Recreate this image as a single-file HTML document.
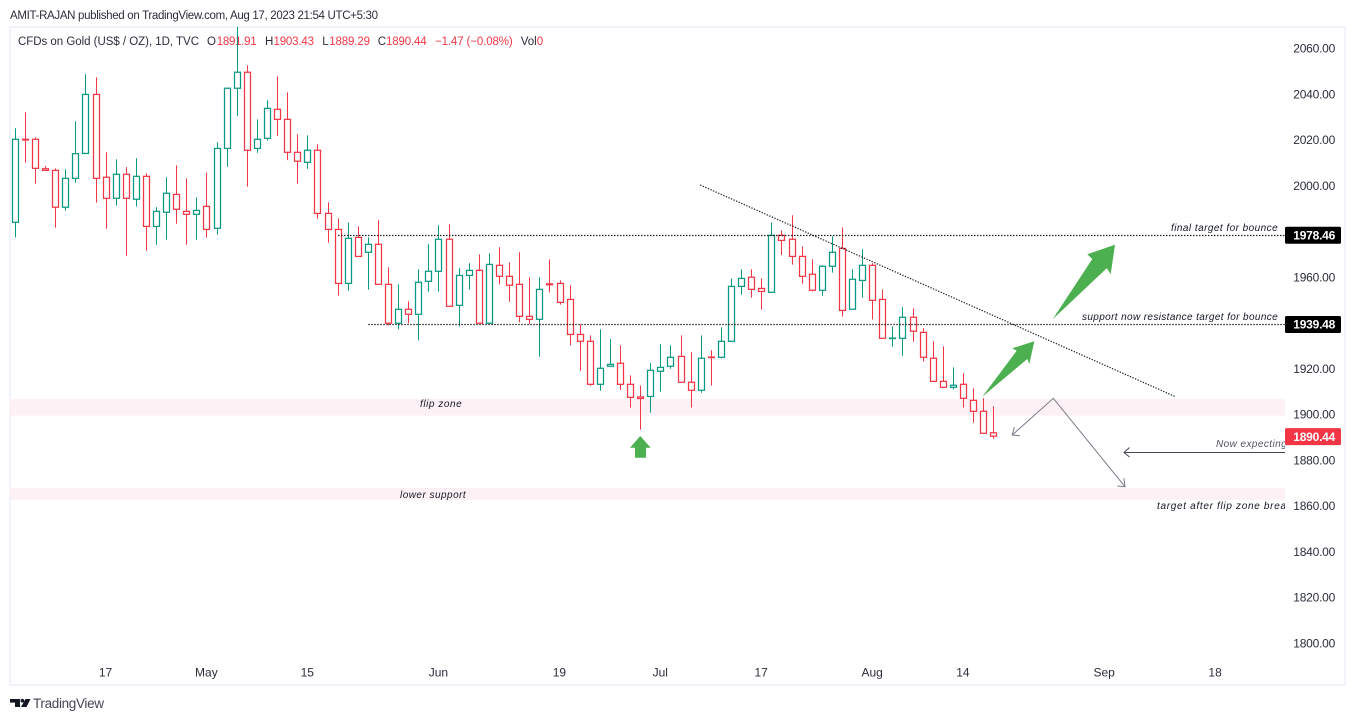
<!DOCTYPE html>
<html lang="en">
<head>
<meta charset="utf-8">
<title>CFDs on Gold chart</title>
<style>
html,body{margin:0;padding:0;background:#fff;width:1355px;height:721px;overflow:hidden}
svg{display:block;font-family:"Liberation Sans",sans-serif}
.ax{font-size:12px;fill:#2a2e39}
.note{font-size:10px;font-style:italic;fill:#131722;letter-spacing:.3px}
.leg{font-size:11.5px;fill:#2a2e39}
.red{fill:#f23645}
</style>
</head>
<body>
<svg id="chart" xmlns="http://www.w3.org/2000/svg" width="1355" height="721" viewBox="0 0 1355 721">
  <defs><clipPath id="plot-clip"><rect x="10" y="27" width="1275" height="657"/></clipPath></defs>
  <text x="10" y="19" textLength="368" lengthAdjust="spacing" style="font-size:11.5px;fill:#2a2e39">AMIT-RAJAN published on TradingView.com, Aug 17, 2023 21:54 UTC+5:30</text>
  <rect x="10" y="27" width="1335" height="658" fill="#fff" stroke="#f0f3fa" stroke-width="2"/>

  <g id="zones"></g>

  <g>
    <text class="leg" x="18" y="45" textLength="181" lengthAdjust="spacing">CFDs on Gold (US$ / OZ), 1D, TVC</text>
    <text class="leg" x="207" y="45">O</text>
    <text class="leg red" x="216.7" y="45" textLength="40" lengthAdjust="spacing">1891.91</text>
    <text class="leg" x="265" y="45">H</text>
    <text class="leg red" x="273.5" y="45" textLength="40.5" lengthAdjust="spacing">1903.43</text>
    <text class="leg" x="322.3" y="45">L</text>
    <text class="leg red" x="329.2" y="45" textLength="40.8" lengthAdjust="spacing">1889.29</text>
    <text class="leg" x="377.7" y="45">C</text>
    <text class="leg red" x="386" y="45" textLength="40.7" lengthAdjust="spacing">1890.44</text>
    <text class="leg red" x="435" y="45" textLength="77.7" lengthAdjust="spacing">−1.47 (−0.08%)</text>
    <text class="leg" x="520.7" y="45" textLength="16" lengthAdjust="spacing">Vol</text>
    <text class="leg red" x="536.8" y="45">0</text>
  </g>

  <g id="candles"></g>
  <g id="lines"></g>

  <g clip-path="url(#plot-clip)">
    <text class="note" x="420" y="407" textLength="42" lengthAdjust="spacing">flip zone</text>
    <text class="note" x="400" y="498" textLength="66" lengthAdjust="spacing">lower support</text>
    <text class="note" x="1171" y="231" textLength="107" lengthAdjust="spacing">final target for bounce</text>
    <text class="note" x="1082" y="320" textLength="196" lengthAdjust="spacing">support now resistance target for bounce</text>
    <text class="note" x="1216" y="447" textLength="71" lengthAdjust="spacing" style="fill:#50535e">Now expecting</text>
    <text class="note" x="1157" y="509" textLength="135" lengthAdjust="spacing">target after flip zone break</text>
  </g>

  <g fill="none" stroke="#787b86" stroke-width="1">
    <path d="M1012.3 435 L1053.3 398.3 L1125 486.7"/>
    <path d="M1020 435.7 L1012.3 435 L1014.3 427.3"/>
    <path d="M1117.3 486 L1125 486.7 L1124 478.3"/>
  </g>
  <g fill="none" stroke="#434651" stroke-width="1">
    <path d="M1285 452.5 L1124 452.5"/>
    <path d="M1129.5 447.5 L1124 452.5 L1129.5 457"/>
  </g>

  <polygon fill="#4caf50" points="1052.7,319.3 1092.3,259 1087.3,254.3 1115,244.7 1110.7,274 1106.7,268.3"/>
  <polygon fill="#4caf50" points="982.3,396.7 1016.7,350.7 1012.3,348.3 1034.3,341.3 1029.3,364 1027.3,359"/>
  <polygon fill="#4caf50" points="640.3,436 650.7,447.7 646,447.7 646,457.7 635,457.7 635,447.7 630,447.7"/>

  <g id="yaxis"></g>
  <g id="xaxis"></g>
  <g id="tags"></g>

  <g>
    <path fill="#131722" d="M10 699h10v8h-5v-4.4h-5z"/>
    <circle cx="22.4" cy="700.7" r="1.8" fill="#131722"/>
    <polygon fill="#131722" points="25.5,699 30.5,699 26.5,707 21,707"/>
    <text x="33" y="708" textLength="71" lengthAdjust="spacing" style="font-size:13.5px;fill:#434651">TradingView</text>
  </g>
</svg>
<script>
const opens=[1983.9,2020.2,2020.2,2007.3,2006.6,1990.5,2003.1,2014.0,2039.8,2003.6,1994.4,2004.9,1994.0,2004.0,1982.1,1988.3,1996.1,1988.7,1987.4,1990.9,1981.3,2016.2,2042.5,2049.5,2016.2,2020.6,2033.3,2028.9,2014.5,2010.1,2015.4,1987.8,1980.8,1957.2,1977.3,1970.8,1974.3,1956.8,1939.8,1945.9,1943.7,1958.1,1962.5,1976.5,1947.6,1960.7,1962.9,1939.8,1965.1,1960.3,1956.8,1942.8,1941.5,1957.0,1957.2,1950.2,1934.9,1931.9,1913.1,1921.0,1922.3,1913.1,1907.6,1907.8,1918.8,1921.0,1925.3,1914.0,1910.5,1925.0,1924.9,1931.9,1955.9,1959.9,1955.0,1953.3,1978.2,1976.5,1969.0,1961.2,1954.2,1964.7,1972.5,1945.9,1958.5,1965.1,1950.2,1933.1,1933.2,1942.4,1935.8,1924.5,1914.4,1911.8,1913.1,1906.1,1901.3,1891.91];
const highs=[2025.0,2032.0,2021.1,2008.5,2007.5,2007.1,2028.0,2048.6,2047.3,2014.5,2011.4,2008.0,2011.9,2005.3,1990.5,2003.6,2008.8,2003.1,1994.8,2005.7,2018.9,2042.5,2069.3,2052.5,2028.9,2037.2,2047.7,2040.7,2022.4,2021.9,2018.0,1992.6,1985.6,1983.9,1982.2,1977.3,1984.8,1964.2,1956.8,1949.4,1963.4,1974.3,1982.6,1983.0,1963.8,1966.0,1969.9,1970.4,1973.0,1966.4,1970.8,1959.9,1959.9,1967.7,1958.5,1956.4,1939.3,1934.5,1937.1,1932.8,1930.1,1917.0,1912.6,1922.3,1930.6,1930.1,1934.5,1927.1,1934.5,1928.0,1938.0,1959.4,1963.4,1963.4,1959.4,1983.9,1980.4,1987.0,1973.4,1967.7,1965.1,1977.8,1981.7,1963.4,1972.1,1966.0,1954.6,1938.4,1946.8,1946.3,1937.6,1931.9,1929.7,1920.5,1917.9,1911.3,1907.0,1903.43];
const lows=[1977.3,2010.0,2000.8,2006.4,1981.6,1989.0,2001.2,2013.9,1992.5,1981.1,1991.2,1969.3,1990.8,1971.5,1974.1,1976.3,1983.3,1974.1,1976.3,1977.2,1978.5,2008.2,2030.4,1999.5,2014.3,2019.6,2021.6,2011.1,2000.8,2007.3,1985.5,1975.0,1951.9,1954.0,1969.0,1954.5,1956.8,1938.9,1937.1,1939.8,1932.3,1953.6,1953.6,1947.2,1938.5,1954.5,1939.8,1939.8,1956.7,1949.2,1940.2,1939.5,1925.2,1953.2,1947.9,1930.1,1919.1,1912.5,1910.3,1920.8,1910.6,1902.9,1893.3,1900.7,1909.9,1919.9,1914.0,1902.9,1909.4,1912.5,1924.4,1931.9,1952.3,1951.0,1945.7,1953.3,1969.6,1965.4,1957.1,1953.7,1951.8,1961.9,1942.7,1945.9,1951.0,1941.4,1933.2,1929.5,1925.6,1931.7,1923.0,1914.3,1911.8,1910.9,1902.9,1896.3,1891.7,1889.29];
const closes=[2020.2,2019.9,2007.5,2006.6,1990.5,2003.1,2013.9,2039.8,2003.1,1994.4,2004.9,1994.4,2004.0,1982.1,1988.7,1996.6,1989.6,1987.4,1989.1,1980.8,2016.2,2042.5,2049.5,2015.4,2020.2,2033.7,2028.9,2014.5,2010.6,2015.4,1987.8,1980.8,1957.2,1976.9,1969.0,1974.3,1956.8,1939.8,1945.9,1943.7,1957.7,1962.5,1976.5,1947.2,1960.7,1962.9,1939.8,1965.5,1960.3,1956.4,1942.8,1941.5,1954.6,1956.6,1948.9,1934.9,1931.9,1913.1,1920.1,1921.8,1913.1,1907.4,1906.9,1919.2,1920.5,1924.9,1914.0,1910.5,1924.5,1924.8,1931.9,1955.9,1959.4,1954.6,1953.7,1978.2,1976.0,1969.0,1960.3,1954.2,1964.7,1970.8,1945.4,1959.0,1965.1,1949.8,1933.2,1933.3,1942.4,1936.3,1924.9,1914.4,1911.8,1912.7,1907.0,1901.3,1891.7,1890.44];

const priceTicks=[2060,2040,2020,2000,1960,1920,1900,1880,1860,1840,1820,1800];
const timeLabels=["17","May","15","Jun","19","Jul","17","Aug","14","Sep","18"];
const timeBars=[9,19,29,42,54,64,74,85,94,108,119];

const tagPrices=[1978.46,1939.48,1890.44];
const tagColors=["#000000","#000000","#f23645"];
const levelPrices=[1978.46,1939.48];
const levelStartBars=[32,35];
const zoneTops=[1906.7,1867.8];
const zoneBottoms=[1899.4,1862.5];
const trendBars=[67.9,115.05];
const trendPrices=[2000.2,1907.6];

const NS="http://www.w3.org/2000/svg";
const xBar=i=>15.33+i*10.087;
const yPrice=p=>48.2+(2060-p)*2.288;
const col=i=>Math.floor(xBar(i))+0.5;
function mk(tag,parent,attrs){
  const el=document.createElementNS(NS,tag);
  for(const k in attrs)el.setAttribute(k,attrs[k]);
  parent.appendChild(el);
  return el;
}

const zonesLayer=document.getElementById("zones");
zoneTops.forEach((t,i)=>{
  const r=mk("rect",zonesLayer,{x:10,y:yPrice(t),width:1275,height:yPrice(zoneBottoms[i])-yPrice(t),fill:"#fdf1f5"});
  
  
});

const candleLayer=document.getElementById("candles");
closes.forEach((c,i)=>{
  const o=opens[i],up=c>=o,color=up?"#089981":"#f23645",cx=col(i);
  const g=mk("g",candleLayer,{});
  
  
  const w=mk("line",g,{x1:cx,x2:cx,y1:yPrice(highs[i]),y2:yPrice(lows[i]),stroke:color,"stroke-width":1});
  
  
  const top=yPrice(Math.max(o,c)),bot=yPrice(Math.min(o,c));
  const b=mk("rect",g,{x:cx-3,y:top,width:6,height:Math.max(bot-top,0.4),fill:"#ffffff",stroke:color,"stroke-width":1.25});
  
  
});

const lineLayer=document.getElementById("lines");
levelPrices.forEach((p,i)=>{
  const y=Math.round(yPrice(p))+0.5;
  const l=mk("line",lineLayer,{x1:xBar(levelStartBars[i]),x2:1285,y1:y,y2:y,stroke:"#000000","stroke-width":1.3,"stroke-dasharray":"1.3 1.7"});
  
  
});
const trend=mk("line",lineLayer,{x1:xBar(trendBars[0]),y1:yPrice(trendPrices[0]),x2:xBar(trendBars[1]),y2:yPrice(trendPrices[1]),stroke:"#131722","stroke-width":1.2,"stroke-dasharray":"1.3 1.5"});



const yAxis=document.getElementById("yaxis");
priceTicks.forEach(p=>{
  const t=mk("text",yAxis,{class:"ax",x:1293.3,y:yPrice(p)+4.3,textLength:42,lengthAdjust:"spacing"});
  
  
  t.textContent=p.toFixed(2);
});

const xAxis=document.getElementById("xaxis");
timeLabels.forEach((s,i)=>{
  const t=mk("text",xAxis,{class:"ax",x:xBar(timeBars[i])-0.6,y:676.5,"text-anchor":"middle"});
  
  
  t.textContent=s;
});

const tags=document.getElementById("tags");
tagPrices.forEach((p,i)=>{
  const y=yPrice(p)+0.5;
  const r=mk("rect",tags,{x:1285,y:y-8.5,width:56,height:17,rx:1.5,fill:tagColors[i]});
  
  
  const t=mk("text",tags,{x:1293.3,y:y+4.3,textLength:42,lengthAdjust:"spacing",fill:"#ffffff","font-size":"12","font-weight":"bold"});
  
  
  t.textContent=p.toFixed(2);
});
</script>
</body>
</html>
